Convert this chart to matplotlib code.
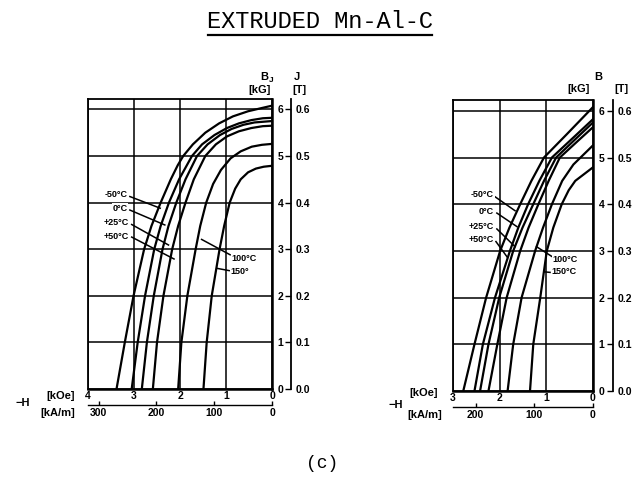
import matplotlib
matplotlib.use("Agg")
import matplotlib.pyplot as plt
from matplotlib.lines import Line2D

W, H_PX = 643, 491
DPI = 100

# ---- intrinsic curves (left panel): -H [kOe] against B_J [kG] ----
temps_left = ["-50°C", "0°C", "+25°C", "+50°C", "100°C", "150°"]
left_B = [
    [0, 1, 2, 3, 3.5, 4, 4.5, 4.8, 5.0, 5.25, 5.5, 5.7, 5.85, 5.96, 6.03, 6.08],
    [0, 1, 2, 3, 3.5, 4, 4.5, 5.0, 5.25, 5.45, 5.6, 5.7, 5.77, 5.81, 5.82],
    [0, 1, 2, 3, 3.5, 4, 4.5, 5.0, 5.25, 5.45, 5.58, 5.67, 5.72, 5.75],
    [0, 1, 2, 3, 3.5, 4, 4.5, 5.0, 5.25, 5.42, 5.53, 5.6, 5.64, 5.65],
    [0, 1, 2, 3, 3.5, 4, 4.4, 4.7, 4.95, 5.1, 5.2, 5.24, 5.26],
    [0, 1, 2, 3, 3.5, 4, 4.3, 4.5, 4.65, 4.73, 4.77, 4.79],
]
left_H = [
    [3.38, 3.20, 3.01, 2.78, 2.62, 2.42, 2.20, 2.05, 1.93, 1.72, 1.45, 1.15, 0.85, 0.52, 0.22, 0.0],
    [3.05, 2.92, 2.76, 2.56, 2.42, 2.24, 2.02, 1.74, 1.52, 1.25, 0.98, 0.72, 0.45, 0.20, 0.0],
    [2.83, 2.72, 2.57, 2.38, 2.25, 2.08, 1.88, 1.63, 1.40, 1.13, 0.88, 0.62, 0.38, 0.0],
    [2.59, 2.50, 2.36, 2.17, 2.04, 1.88, 1.70, 1.45, 1.22, 0.98, 0.72, 0.45, 0.20, 0.0],
    [2.04, 1.97, 1.84, 1.66, 1.56, 1.43, 1.28, 1.11, 0.90, 0.68, 0.44, 0.22, 0.0],
    [1.49, 1.42, 1.31, 1.14, 1.04, 0.92, 0.80, 0.68, 0.52, 0.35, 0.18, 0.0],
]

# ---- normal curves (right panel): -H [kOe] against B [kG] ----
temps_right = ["-50°C", "0°C", "+25°C", "+50°C", "100°C", "150°C"]
right_B = [
    [0, 1, 2, 3, 3.5, 4, 4.5, 5, 5.5, 6.08],
    [0, 1, 2, 3, 3.5, 4, 4.5, 5, 5.4, 5.82],
    [0, 1, 2, 3, 3.5, 4, 4.5, 5, 5.4, 5.75],
    [0, 1, 2, 3, 3.5, 4, 4.5, 5, 5.35, 5.65],
    [0, 1, 2, 3, 3.5, 4, 4.5, 4.85, 5.26],
    [0, 1, 2, 3, 3.5, 4, 4.3, 4.5, 4.79],
]
right_H = [
    [2.78, 2.54, 2.29, 1.99, 1.79, 1.56, 1.32, 1.05, 0.56, 0.0],
    [2.54, 2.36, 2.10, 1.78, 1.60, 1.39, 1.15, 0.88, 0.45, 0.0],
    [2.42, 2.24, 2.01, 1.71, 1.51, 1.28, 1.05, 0.79, 0.37, 0.0],
    [2.24, 2.05, 1.85, 1.56, 1.38, 1.17, 0.95, 0.71, 0.33, 0.0],
    [1.83, 1.71, 1.53, 1.24, 1.07, 0.88, 0.66, 0.42, 0.0],
    [1.35, 1.28, 1.13, 0.99, 0.85, 0.67, 0.52, 0.38, 0.0],
]

koe_ticks_left = [4, 3, 2, 1, 0]
koe_ticks_right = [3, 2, 1, 0]
kam_ticks_left = [300, 200, 100, 0]
kam_ticks_right = [200, 100, 0]
kg_ticks = [0, 1, 2, 3, 4, 5, 6]
tesla_ticks = [0.0, 0.1, 0.2, 0.3, 0.4, 0.5, 0.6]
KAM_PER_KOE = 79.577

LBL = dict(family="Liberation Sans", weight="bold", size=7.5)


def fx(x):
    return x / W


def fy(y):
    return 1 - y / H_PX


fig = plt.figure(figsize=(W / DPI, H_PX / DPI), dpi=DPI)


def make_panel(rect, hmax, bmax, koe_ticks, kam_ticks, t_loc, kam_loc):
    ax = fig.add_axes(rect)
    ax.set_xlim(hmax, 0)
    ax.set_ylim(0, bmax)
    ax.set_xticks(koe_ticks)
    ax.set_xticklabels([str(t) for t in koe_ticks], **LBL)
    ax.set_yticks(kg_ticks)
    ax.set_yticklabels([str(t) for t in kg_ticks], **LBL)
    ax.yaxis.tick_right()
    ax.tick_params(axis="x", length=0, pad=1.5)
    ax.tick_params(axis="y", length=0, pad=4)
    ax.grid(True, color="black", lw=1.1)
    for sp in ax.spines.values():
        sp.set_linewidth(1.3)
    ax.spines["right"].set_linewidth(1.8)
    ax.spines["bottom"].set_linewidth(1.8)

    tax = ax.secondary_yaxis(t_loc, functions=(lambda b: b / 10, lambda t: t * 10))
    tax.set_yticks(tesla_ticks)
    tax.set_yticklabels([f"{t:.1f}" for t in tesla_ticks], **LBL)
    tax.tick_params(axis="y", direction="in", length=4, width=1.0, pad=3)
    tax.spines["right"].set_linewidth(1.3)

    kax = ax.secondary_xaxis(kam_loc, functions=(lambda h: h * KAM_PER_KOE,
                                                  lambda k: k / KAM_PER_KOE))
    kax.set_xticks(kam_ticks)
    kax.set_xticklabels([str(t) for t in kam_ticks], **LBL)
    kax.tick_params(axis="x", direction="in", length=3, width=1.0, pad=2)
    kax.spines["bottom"].set_linewidth(1.0)
    return ax


axL = make_panel([fx(88), fy(389), 184 / W, 290 / H_PX], 4, 290 / 46.6,
                 koe_ticks_left, kam_ticks_left, 1 + 19 / 184, -16 / 290)
axR = make_panel([fx(453), fy(391), 140 / W, 291 / H_PX], 3, 291 / 46.7,
                 koe_ticks_right, kam_ticks_right, 1 + 20 / 140, -16 / 291)

for hs, bs in zip(left_H, left_B):
    axL.plot(hs, bs, color="black", lw=1.6, solid_joinstyle="round")
for hs, bs in zip(right_H, right_B):
    axR.plot(hs, bs, color="black", lw=1.6, solid_joinstyle="round")

# temperature labels with leader lines (data coordinates of each panel)
left_labels = [
    (temps_left[0], (3.13, 4.18), (3.09, 4.13), (2.43, 3.88), "right"),
    (temps_left[1], (3.13, 3.88), (3.09, 3.84), (2.33, 3.52), "right"),
    (temps_left[2], (3.11, 3.57), (3.05, 3.53), (2.25, 3.09), "right"),
    (temps_left[3], (3.11, 3.28), (3.05, 3.26), (2.13, 2.79), "right"),
    (temps_left[4], (0.89, 2.81), (1.53, 3.21), (0.91, 2.88), "left"),
    (temps_left[5], (0.91, 2.53), (1.20, 2.59), (0.93, 2.54), "left"),
]
right_labels = [
    (temps_right[0], (2.12, 4.20), (2.10, 4.16), (1.67, 3.86), "right"),
    (temps_right[1], (2.12, 3.84), (2.06, 3.81), (1.63, 3.52), "right"),
    (temps_right[2], (2.12, 3.52), (2.06, 3.47), (1.67, 3.09), "right"),
    (temps_right[3], (2.12, 3.25), (2.08, 3.20), (1.84, 2.87), "right"),
    (temps_right[4], (0.86, 2.81), (1.21, 3.09), (0.88, 2.88), "left"),
    (temps_right[5], (0.90, 2.55), (1.03, 2.55), (0.92, 2.54), "left"),
]
for ax, labels in ((axL, left_labels), (axR, right_labels)):
    for text, tpos, p0, p1, ha in labels:
        ax.plot([p0[0], p1[0]], [p0[1], p1[1]], color="black", lw=1.1)
        ax.text(tpos[0], tpos[1], text, ha=ha, va="center",
                family="Liberation Sans", weight="bold", size=6.5,
                bbox=dict(facecolor="white", edgecolor="none", pad=0.3))

# axis captions
cap = dict(family="Liberation Sans", weight="bold", size=8)
fig.text(fx(264), fy(77), "B", ha="center", va="center", **cap)
fig.text(fx(271), fy(80), "J", ha="center", va="center",
         family="Liberation Sans", weight="bold", size=6)
fig.text(fx(260), fy(90), "[kG]", ha="center", va="center", **cap)
fig.text(fx(297), fy(77), "J", ha="center", va="center", **cap)
fig.text(fx(299), fy(90), "[T]", ha="center", va="center", **cap)

fig.text(fx(598), fy(77), "B", ha="center", va="center", **cap)
fig.text(fx(579), fy(89), "[kG]", ha="center", va="center", **cap)
fig.text(fx(621), fy(89), "[T]", ha="center", va="center", **cap)

fig.text(fx(23), fy(403), "−H", ha="center", va="center", **cap)
fig.text(fx(61), fy(396), "[kOe]", ha="center", va="center", **cap)
fig.text(fx(58), fy(413), "[kA/m]", ha="center", va="center", **cap)

fig.text(fx(396), fy(405), "−H", ha="center", va="center", **cap)
fig.text(fx(424), fy(393), "[kOe]", ha="center", va="center", **cap)
fig.text(fx(425), fy(415), "[kA/m]", ha="center", va="center", **cap)

# title and panel tag
fig.text(fx(320), fy(22), "EXTRUDED Mn-Al-C", ha="center", va="center",
         family="Liberation Mono", size=17)
fig.add_artist(Line2D([fx(208), fx(432)], [fy(35), fy(35)], color="black", lw=1.6))
fig.text(fx(322), fy(463), "(c)", ha="center", va="center",
         family="Liberation Mono", size=13)

fig.savefig("out.png", dpi=DPI)
